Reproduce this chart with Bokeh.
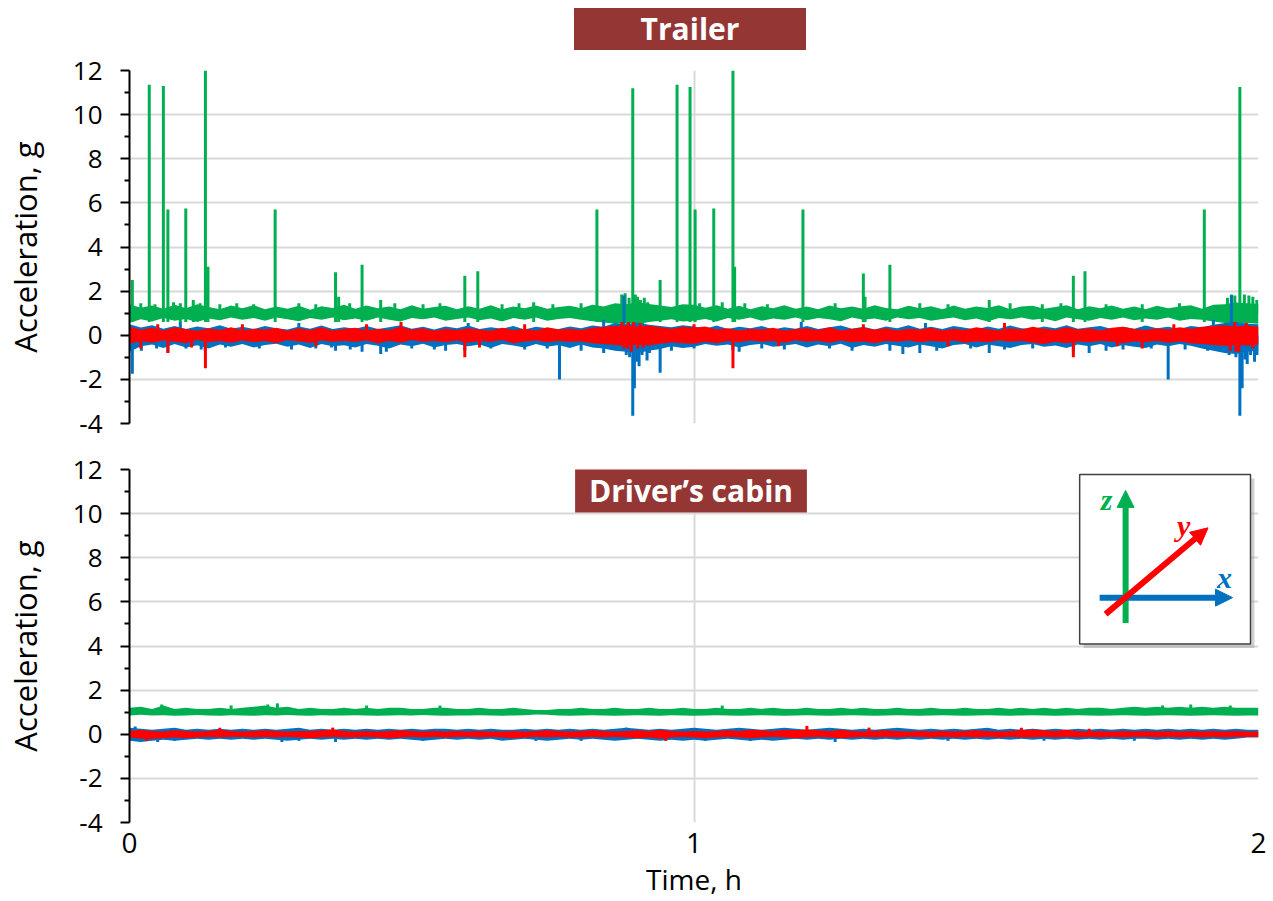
from bokeh.plotting import figure
from bokeh.layouts import column
from bokeh.models import FixedTicker, Range1d, Div
from bokeh.core.properties import value
from bokeh.embed import file_html
from bokeh.resources import INLINE

FONT = "Open Sans"
GREEN, BLUE, RED = "#00B050", "#0070C0", "#FF0000"
BOX_COLOR = "#943634"
GRID = "#D9D9D9"

panel_titles = ["Trailer", "Driver\u2019s cabin"]
y_label = "Acceleration, g"
x_label = "Time, h"
x_ticks = [0, 1, 2]
y_ticks = [-4, -2, 0, 2, 4, 6, 8, 10, 12]
y_minor = [-3, -1, 1, 3, 5, 7, 9, 11]
axis_names = ["x", "y", "z"]

# sample grid of the envelopes (h)
time_h = [round(0.02 * i, 2) for i in range(101)]

# ---------------- Trailer: envelope (upper / lower) of each axis ----------------
T_z_hi = [1.40,1.25,1.35,1.20,1.38,1.22,1.40,1.28,1.18,1.35,
          1.22,1.36,1.18,1.30,1.20,1.34,1.16,1.32,1.24,1.38,
          1.20,1.35,1.22,1.30,1.18,1.36,1.20,1.28,1.34,1.18,
          1.32,1.20,1.36,1.18,1.30,1.22,1.35,1.20,1.28,1.34,
          1.22,1.38,1.30,1.45,1.40,1.50,1.42,1.35,1.28,1.40,
          1.38,1.25,1.36,1.20,1.34,1.18,1.32,1.22,1.36,1.20,
          1.30,1.18,1.35,1.22,1.30,1.20,1.36,1.24,1.18,1.34,
          1.22,1.32,1.18,1.35,1.20,1.30,1.24,1.36,1.18,1.30,
          1.34,1.20,1.28,1.36,1.18,1.32,1.22,1.35,1.20,1.30,
          1.18,1.34,1.22,1.30,1.36,1.20,1.38,1.40,1.48,1.45,
          1.42]
T_z_lo = [0.55,0.72,0.62,0.78,0.66,0.74,0.60,0.76,0.68,0.80,
          0.70,0.78,0.66,0.80,0.72,0.64,0.78,0.70,0.80,0.68,
          0.76,0.66,0.80,0.70,0.62,0.78,0.72,0.80,0.66,0.74,
          0.80,0.68,0.76,0.62,0.78,0.70,0.80,0.66,0.74,0.78,
          0.70,0.64,0.58,0.52,0.56,0.50,0.60,0.66,0.72,0.62,
          0.66,0.74,0.62,0.78,0.70,0.80,0.66,0.76,0.70,0.80,
          0.68,0.78,0.72,0.64,0.80,0.70,0.76,0.66,0.80,0.72,
          0.78,0.66,0.74,0.80,0.68,0.76,0.62,0.78,0.72,0.80,
          0.70,0.76,0.64,0.80,0.72,0.66,0.78,0.70,0.80,0.68,
          0.76,0.70,0.80,0.66,0.74,0.70,0.62,0.56,0.50,0.55,
          0.52]
T_x_hi = [0.50,0.35,0.45,0.30,0.42,0.28,0.40,0.32,0.45,0.30,
          0.38,0.28,0.42,0.32,0.26,0.40,0.30,0.44,0.28,0.36,
          0.30,0.42,0.28,0.36,0.45,0.30,0.38,0.26,0.40,0.32,
          0.44,0.28,0.36,0.30,0.42,0.26,0.38,0.32,0.28,0.40,
          0.32,0.44,0.38,0.55,0.50,0.58,0.48,0.42,0.36,0.45,
          0.40,0.30,0.44,0.28,0.38,0.32,0.42,0.26,0.36,0.30,
          0.42,0.28,0.36,0.44,0.30,0.38,0.26,0.40,0.32,0.45,
          0.30,0.38,0.28,0.42,0.34,0.26,0.40,0.30,0.44,0.32,
          0.28,0.40,0.32,0.45,0.30,0.36,0.42,0.28,0.38,0.30,
          0.44,0.32,0.38,0.28,0.42,0.36,0.48,0.55,0.60,0.52,
          0.50]
T_x_lo = [-0.75,-0.50,-0.42,-0.58,-0.40,-0.55,-0.45,-0.60,-0.42,-0.52,
          -0.40,-0.56,-0.44,-0.38,-0.52,-0.42,-0.58,-0.40,-0.50,-0.45,
          -0.55,-0.40,-0.48,-0.60,-0.42,-0.50,-0.38,-0.56,-0.44,-0.40,
          -0.50,-0.42,-0.58,-0.40,-0.46,-0.55,-0.40,-0.52,-0.44,-0.58,
          -0.42,-0.55,-0.60,-0.70,-0.75,-0.80,-0.70,-0.62,-0.50,-0.58,
          -0.52,-0.40,-0.48,-0.42,-0.56,-0.44,-0.38,-0.52,-0.46,-0.40,
          -0.55,-0.42,-0.50,-0.38,-0.58,-0.44,-0.52,-0.40,-0.48,-0.56,
          -0.42,-0.50,-0.60,-0.44,-0.40,-0.55,-0.42,-0.50,-0.58,-0.44,
          -0.40,-0.52,-0.46,-0.58,-0.42,-0.50,-0.40,-0.56,-0.44,-0.52,
          -0.58,-0.42,-0.50,-0.40,-0.48,-0.60,-0.70,-0.80,-0.85,-0.75,
          -0.70]
T_y_hi = [0.38,0.25,0.34,0.22,0.36,0.28,0.20,0.32,0.24,0.36,
          0.22,0.30,0.26,0.34,0.20,0.32,0.24,0.36,0.22,0.28,
          0.34,0.22,0.30,0.24,0.38,0.26,0.32,0.20,0.30,0.24,
          0.32,0.26,0.20,0.34,0.24,0.30,0.22,0.36,0.26,0.30,
          0.24,0.34,0.38,0.42,0.45,0.40,0.44,0.36,0.30,0.38,
          0.34,0.40,0.26,0.32,0.22,0.30,0.26,0.34,0.22,0.28,
          0.32,0.24,0.36,0.22,0.30,0.34,0.26,0.32,0.22,0.30,
          0.26,0.34,0.22,0.30,0.24,0.36,0.28,0.22,0.32,0.26,
          0.38,0.30,0.24,0.36,0.26,0.32,0.22,0.34,0.38,0.28,
          0.24,0.32,0.26,0.36,0.30,0.38,0.42,0.45,0.40,0.44,
          0.38]
T_y_lo = [-0.38,-0.26,-0.34,-0.24,-0.30,-0.36,-0.22,-0.32,-0.26,-0.34,
          -0.24,-0.32,-0.26,-0.36,-0.22,-0.28,-0.34,-0.24,-0.30,-0.26,
          -0.30,-0.24,-0.36,-0.26,-0.34,-0.22,-0.30,-0.26,-0.32,-0.24,
          -0.34,-0.26,-0.30,-0.22,-0.36,-0.28,-0.24,-0.32,-0.26,-0.30,
          -0.28,-0.36,-0.40,-0.44,-0.48,-0.42,-0.46,-0.38,-0.32,-0.36,
          -0.38,-0.30,-0.36,-0.26,-0.32,-0.24,-0.30,-0.26,-0.34,-0.24,
          -0.30,-0.26,-0.34,-0.24,-0.32,-0.28,-0.36,-0.26,-0.30,-0.24,
          -0.32,-0.26,-0.30,-0.24,-0.34,-0.28,-0.32,-0.24,-0.30,-0.26,
          -0.34,-0.40,-0.30,-0.36,-0.28,-0.32,-0.26,-0.30,-0.36,-0.28,
          -0.32,-0.26,-0.34,-0.28,-0.36,-0.40,-0.44,-0.48,-0.44,-0.46,
          -0.42]

# Trailer: large isolated peaks (time h, peak g)
T_z_peak_t = [0.005, 0.035, 0.060, 0.068, 0.090, 0.0997, 0.113, 0.1345, 0.139, 0.258,
              0.365, 0.3705, 0.412, 0.445, 0.594, 0.617, 0.716, 0.828, 0.8915, 0.940,
              0.970, 0.993, 1.002, 1.035, 1.069, 1.072, 1.193, 1.300, 1.303, 1.347,
              1.523, 1.617, 1.672, 1.6926, 1.794, 1.904, 1.967]
T_z_peak_v = [2.5, 11.35, 11.3, 5.7, 1.45, 5.75, 1.6, 12.0, 3.1, 5.7,
              2.85, 1.75, 3.2, 1.6, 2.7, 2.9, 1.5, 5.7, 11.2, 2.5,
              11.35, 11.25, 5.7, 5.75, 12.0, 3.1, 5.7, 2.8, 1.75, 3.2,
              1.6, 1.4, 2.7, 2.9, 1.4, 5.7, 11.25]
# Trailer: small excursions out of the noise band
T_z_fr_t = [0.02, 0.045, 0.078, 0.125, 0.16, 0.19, 0.22, 0.30, 0.33, 0.39,
            0.47, 0.52, 0.55, 0.66, 0.69, 0.75, 0.80, 0.872, 0.878, 0.885,
            0.896, 0.900, 0.905, 0.912, 0.918, 1.01, 1.05, 1.09, 1.13, 1.25,
            1.40, 1.45, 1.56, 1.65, 1.73, 1.86, 1.945, 1.952, 1.958, 1.975,
            1.983, 1.990, 1.997, 0.882, 0.909, 1.962, 1.979]
T_z_fr_v = [1.45, 1.4, 1.5, 1.45, 1.4, 1.45, 1.4, 1.45, 1.4, 1.45,
            1.45, 1.4, 1.45, 1.4, 1.45, 1.4, 1.45, 1.85, 1.9, 1.7,
            1.85, 1.75, 1.6, 1.7, 1.5, 1.45, 1.5, 1.45, 1.4, 1.45,
            1.45, 1.4, 1.45, 1.45, 1.4, 1.45, 1.7, 1.85, 1.8, 1.85,
            1.8, 1.75, 1.6, 0.3, 0.35, 0.35, 0.3]
T_x_peak_t = [0.005, 0.068, 0.134, 0.365, 0.412, 0.445, 0.594, 0.7617, 0.876, 0.8915,
              0.8944, 0.9027, 0.9168, 0.940, 1.069, 1.347, 1.523, 1.672, 1.840, 1.952,
              1.967, 1.971, 1.980, 1.993]
T_x_peak_v = [-1.75, -0.8, -0.7, -0.7, -0.75, -0.85, -0.7, -2.0, 1.8, -3.65,
              -2.4, -1.4, -1.15, -1.7, -0.7, -0.7, -0.8, -0.75, -2.0, 1.8,
              -3.65, -2.4, -1.3, -1.2]
T_x_fr_t = [0.021, 0.048, 0.10, 0.127, 0.17, 0.23, 0.287, 0.33, 0.358, 0.391,
            0.455, 0.50, 0.54, 0.56, 0.64, 0.70, 0.74, 0.80, 0.84, 0.88,
            0.886, 0.899, 0.908, 0.921, 0.96, 1.00, 1.08, 1.12, 1.16, 1.24,
            1.28, 1.37, 1.40, 1.43, 1.49, 1.55, 1.60, 1.70, 1.73, 1.76,
            1.81, 1.87, 1.91, 1.948, 1.96, 1.976, 1.986, 1.998,
            0.09, 0.30, 0.60, 0.84, 1.19, 1.41, 1.92]
T_x_fr_v = [-0.7, -0.6, -0.6, -0.65, -0.55, -0.6, -0.65, -0.6, -0.55, -0.65,
            -0.75, -0.6, -0.65, -0.7, -0.6, -0.65, -0.6, -0.7, -0.8, -0.9,
            -1.0, -1.2, -0.9, -0.8, -0.7, -0.6, -0.75, -0.6, -0.65, -0.6,
            -0.7, -0.85, -0.8, -0.7, -0.6, -0.65, -0.6, -0.8, -0.7, -0.65,
            -0.6, -0.65, -0.7, -0.9, -1.0, -1.1, -0.9, -0.9,
            0.6, 0.55, 0.55, 0.7, 0.6, 0.55, 0.7]
T_y_peak_t = [0.068, 0.1345, 0.481, 0.594, 0.882, 0.905, 1.069, 1.672, 1.794, 1.960]
T_y_peak_v = [-0.8, -1.5, 0.6, -1.0, -0.6, 0.55, -1.5, -1.0, -0.6, -0.75]
T_y_fr_t = [0.02, 0.05, 0.11, 0.20, 0.33, 0.42, 0.62, 0.70, 0.872, 0.876,
            0.884, 0.889, 0.893, 0.900, 0.910, 1.00, 1.15, 1.30, 1.45, 1.55,
            1.75, 1.85, 1.95, 1.958, 1.965, 1.978, 1.990]
T_y_fr_v = [-0.6, 0.5, -0.55, 0.5, -0.5, 0.5, -0.55, 0.5, 0.6, -0.6,
            0.6, -0.75, 0.6, -0.6, -0.55, 0.5, -0.5, 0.5, -0.5, 0.55,
            -0.5, 0.5, -0.7, 0.6, -0.75, 0.55, -0.6]

# ---------------- Driver's cabin ----------------
C_z_hi = [1.20,1.25,1.15,1.30,1.15,1.20,1.15,1.15,1.20,1.15,
          1.20,1.25,1.30,1.20,1.25,1.15,1.20,1.15,1.15,1.20,
          1.15,1.20,1.15,1.20,1.20,1.15,1.15,1.20,1.20,1.15,
          1.15,1.20,1.15,1.15,1.20,1.15,1.10,1.10,1.15,1.15,
          1.20,1.15,1.15,1.20,1.15,1.15,1.20,1.15,1.15,1.20,
          1.15,1.15,1.20,1.15,1.15,1.20,1.15,1.20,1.15,1.15,
          1.20,1.15,1.15,1.20,1.15,1.20,1.15,1.15,1.20,1.15,
          1.15,1.20,1.15,1.15,1.20,1.15,1.15,1.20,1.15,1.20,
          1.15,1.20,1.15,1.20,1.15,1.20,1.20,1.15,1.20,1.25,
          1.20,1.25,1.20,1.25,1.20,1.25,1.20,1.25,1.20,1.20,
          1.20]
C_z_lo = [0.85,0.88,0.85,0.86,0.84,0.85,0.87,0.85,0.84,0.86,
          0.85,0.84,0.86,0.85,0.87,0.85,0.84,0.86,0.85,0.85,
          0.86,0.85,0.84,0.85,0.86,0.85,0.87,0.85,0.84,0.85,
          0.85,0.86,0.85,0.84,0.85,0.86,0.90,0.88,0.85,0.84,
          0.85,0.86,0.85,0.84,0.85,0.86,0.85,0.84,0.86,0.85,
          0.84,0.85,0.86,0.85,0.84,0.85,0.86,0.85,0.84,0.85,
          0.86,0.85,0.84,0.85,0.86,0.85,0.84,0.85,0.86,0.85,
          0.84,0.85,0.86,0.85,0.84,0.85,0.86,0.85,0.84,0.85,
          0.86,0.85,0.84,0.85,0.86,0.85,0.84,0.85,0.86,0.85,
          0.84,0.85,0.86,0.85,0.84,0.85,0.86,0.85,0.84,0.85,
          0.85]
C_x_hi = [0.30,0.25,0.20,0.25,0.30,0.20,0.25,0.20,0.25,0.20,
          0.25,0.20,0.25,0.20,0.25,0.30,0.20,0.25,0.20,0.25,
          0.20,0.25,0.20,0.25,0.20,0.25,0.20,0.25,0.25,0.20,
          0.25,0.20,0.25,0.20,0.20,0.25,0.20,0.25,0.20,0.25,
          0.20,0.25,0.20,0.25,0.30,0.25,0.20,0.25,0.20,0.25,
          0.30,0.25,0.20,0.25,0.30,0.25,0.20,0.25,0.30,0.25,
          0.20,0.25,0.30,0.25,0.20,0.25,0.20,0.25,0.30,0.25,
          0.20,0.25,0.20,0.25,0.20,0.25,0.30,0.20,0.25,0.20,
          0.25,0.20,0.25,0.20,0.25,0.20,0.25,0.20,0.25,0.20,
          0.25,0.20,0.25,0.20,0.25,0.20,0.25,0.20,0.25,0.20,
          0.20]
C_x_lo = [-0.30,-0.35,-0.30,-0.25,-0.30,-0.25,-0.20,-0.25,-0.20,-0.25,
          -0.20,-0.25,-0.20,-0.25,-0.30,-0.25,-0.20,-0.25,-0.20,-0.25,
          -0.20,-0.25,-0.20,-0.25,-0.20,-0.25,-0.30,-0.25,-0.20,-0.25,
          -0.20,-0.25,-0.20,-0.30,-0.25,-0.20,-0.25,-0.30,-0.25,-0.20,
          -0.25,-0.20,-0.25,-0.30,-0.25,-0.20,-0.25,-0.30,-0.25,-0.30,
          -0.25,-0.30,-0.25,-0.20,-0.25,-0.30,-0.25,-0.30,-0.25,-0.20,
          -0.25,-0.20,-0.25,-0.20,-0.25,-0.20,-0.25,-0.20,-0.25,-0.20,
          -0.25,-0.20,-0.25,-0.20,-0.25,-0.20,-0.25,-0.20,-0.25,-0.20,
          -0.25,-0.20,-0.25,-0.20,-0.25,-0.20,-0.25,-0.20,-0.25,-0.20,
          -0.20,-0.25,-0.20,-0.25,-0.20,-0.25,-0.20,-0.25,-0.20,-0.15,
          -0.15]
C_y_hi = [0.15,0.20,0.15,0.12,0.18,0.15,0.12,0.15,0.20,0.15,
          0.12,0.15,0.18,0.15,0.12,0.15,0.15,0.18,0.22,0.15,
          0.12,0.15,0.12,0.15,0.18,0.15,0.12,0.15,0.12,0.15,
          0.12,0.15,0.12,0.12,0.15,0.12,0.15,0.18,0.15,0.12,
          0.15,0.18,0.15,0.12,0.15,0.18,0.15,0.20,0.15,0.12,
          0.15,0.12,0.15,0.18,0.15,0.20,0.18,0.15,0.20,0.18,
          0.22,0.18,0.15,0.20,0.15,0.12,0.15,0.18,0.15,0.12,
          0.15,0.12,0.15,0.12,0.15,0.18,0.15,0.12,0.15,0.18,
          0.22,0.18,0.15,0.20,0.15,0.12,0.15,0.12,0.15,0.12,
          0.15,0.12,0.15,0.12,0.15,0.12,0.15,0.12,0.15,0.12,
          0.12]
C_y_lo = [-0.15,-0.20,-0.22,-0.18,-0.15,-0.18,-0.15,-0.12,-0.15,-0.12,
          -0.12,-0.15,-0.12,-0.15,-0.12,-0.15,-0.18,-0.15,-0.12,-0.15,
          -0.15,-0.12,-0.15,-0.18,-0.15,-0.12,-0.15,-0.12,-0.15,-0.12,
          -0.12,-0.15,-0.12,-0.15,-0.18,-0.15,-0.12,-0.15,-0.12,-0.15,
          -0.15,-0.12,-0.15,-0.12,-0.15,-0.18,-0.15,-0.20,-0.15,-0.12,
          -0.15,-0.18,-0.15,-0.12,-0.15,-0.18,-0.15,-0.12,-0.15,-0.18,
          -0.15,-0.12,-0.15,-0.18,-0.15,-0.12,-0.15,-0.12,-0.15,-0.12,
          -0.12,-0.15,-0.12,-0.15,-0.12,-0.15,-0.12,-0.15,-0.12,-0.15,
          -0.15,-0.12,-0.15,-0.12,-0.15,-0.12,-0.15,-0.12,-0.15,-0.12,
          -0.12,-0.15,-0.12,-0.15,-0.12,-0.15,-0.12,-0.15,-0.12,-0.12,
          -0.12]

C_z_fr_t = [0.057, 0.18, 0.245, 0.262, 0.42, 0.55, 1.05, 1.83, 1.88, 1.95]
C_z_fr_v = [1.35, 1.3, 1.35, 1.4, 1.3, 1.3, 1.3, 1.3, 1.35, 1.3]
C_x_fr_t = [0.01, 0.05, 0.08, 0.27, 0.30, 0.365, 0.52, 0.72, 0.80, 0.88, 1.02, 1.10, 1.25, 1.45, 1.62, 1.78]
C_x_fr_v = [0.35, -0.35, -0.3, -0.35, -0.3, -0.35, -0.3, -0.3, -0.3, 0.3, -0.3, -0.3, -0.35, -0.3, -0.3, -0.3]
C_y_fr_t = [0.03, 0.16, 0.36, 0.95, 1.20, 1.31, 1.58, 1.70]
C_y_fr_v = [-0.3, 0.3, 0.3, -0.3, 0.38, 0.3, 0.3, 0.25]

# ---------------- layout constants (page pixels, page origin at 0) ----------------
FRAME_L, FRAME_R = 128, 1258
BOT_FRAME_T, BOT_FRAME_B = 469, 823


def tx(px):
    return (px - FRAME_L) / (FRAME_R - FRAME_L) * 2


def by(py):
    return 12 - (py - BOT_FRAME_T) / (BOT_FRAME_B - BOT_FRAME_T) * 16


def style_y(p):
    ax = p.yaxis[0]
    ax.ticker = FixedTicker(ticks=y_ticks, minor_ticks=y_minor)
    ax.axis_line_color = "black"
    ax.axis_line_width = 2
    ax.major_tick_line_color = "black"
    ax.major_tick_line_width = 2
    ax.minor_tick_line_color = "black"
    ax.minor_tick_line_width = 2
    ax.major_tick_out = 9
    ax.major_tick_in = 0
    ax.minor_tick_out = 5
    ax.minor_tick_in = 0
    ax.major_label_text_font = FONT
    ax.major_label_text_font_size = "26px"
    ax.major_label_text_color = "black"
    ax.major_label_standoff = 18
    ax.major_label_overrides = {t: str(t) for t in y_ticks}
    ax.axis_label = y_label
    ax.axis_label_text_font = FONT
    ax.axis_label_text_font_size = "31px"
    ax.axis_label_text_font_style = "normal"
    ax.axis_label_text_color = "black"
    ax.axis_label_standoff = 24
    p.ygrid.ticker = FixedTicker(ticks=y_ticks)
    p.ygrid.grid_line_color = GRID
    p.ygrid.grid_line_width = 2
    p.xgrid.ticker = FixedTicker(ticks=x_ticks)
    p.xgrid.grid_line_color = GRID
    p.xgrid.grid_line_width = 2


def draw_band(p, hi, lo, color):
    p.varea(x=time_h, y1=lo, y2=hi, fill_color=color)


def draw_strokes(p, ts, vs, base, color):
    p.segment(x0=ts, y0=[base] * len(ts), x1=ts, y1=vs, line_color=color, line_width=3)


# ---------------- heading above the top panel ----------------
head = Div(
    text=(f'<div style="padding:8px 0 0 574px;margin:0;">'
          f'<div style="width:232px;height:42px;line-height:42px;margin:0;'
          f'background:{BOX_COLOR};color:#ffffff;font-family:\'{FONT}\';'
          f'font-weight:bold;font-size:30px;text-align:center;">{panel_titles[0]}</div></div>'),
    width=1270, height=50, margin=(0, 0, 0, 0))

# ---------------- top figure: Trailer ----------------
p1 = figure(width=1270, height=396, x_range=Range1d(0, 2), y_range=Range1d(-4, 12),
            output_backend="svg", toolbar_location=None, title=None,
            min_border_left=128, min_border_right=12, min_border_top=20, min_border_bottom=23)
p1.outline_line_color = None
p1.xaxis.visible = False
style_y(p1)

draw_band(p1, T_z_hi, T_z_lo, GREEN)
draw_strokes(p1, T_z_peak_t, T_z_peak_v, 0.6, GREEN)
draw_strokes(p1, T_z_fr_t, T_z_fr_v, 1.0, GREEN)
draw_band(p1, T_x_hi, T_x_lo, BLUE)
draw_strokes(p1, T_x_peak_t, T_x_peak_v, 0.0, BLUE)
draw_strokes(p1, T_x_fr_t, T_x_fr_v, 0.0, BLUE)
draw_band(p1, T_y_hi, T_y_lo, RED)
draw_strokes(p1, T_y_peak_t, T_y_peak_v, 0.0, RED)
draw_strokes(p1, T_y_fr_t, T_y_fr_v, 0.0, RED)

# ---------------- bottom figure: Driver's cabin ----------------
p2 = figure(width=1270, height=454, x_range=Range1d(0, 2), y_range=Range1d(-4, 12),
            output_backend="svg", toolbar_location=None, title=None,
            min_border_left=128, min_border_right=12, min_border_top=23, min_border_bottom=77)
p2.outline_line_color = None
style_y(p2)
xa = p2.xaxis[0]
xa.ticker = FixedTicker(ticks=x_ticks)
xa.axis_line_color = None
xa.major_tick_line_color = None
xa.minor_tick_line_color = None
xa.major_label_text_font = FONT
xa.major_label_text_font_size = "28px"
xa.major_label_text_color = "black"
xa.major_label_standoff = 4
xa.axis_label = x_label
xa.axis_label_text_font = FONT
xa.axis_label_text_font_size = "28px"
xa.axis_label_text_font_style = "normal"
xa.axis_label_text_color = "black"
xa.axis_label_standoff = 4

draw_band(p2, C_z_hi, C_z_lo, GREEN)
draw_strokes(p2, C_z_fr_t, C_z_fr_v, 1.0, GREEN)
draw_band(p2, C_x_hi, C_x_lo, BLUE)
draw_strokes(p2, C_x_fr_t, C_x_fr_v, 0.0, BLUE)
draw_band(p2, C_y_hi, C_y_lo, RED)
draw_strokes(p2, C_y_fr_t, C_y_fr_v, 0.0, RED)

# heading box of the bottom panel
p2.quad(left=[tx(574)], right=[tx(806)], top=[by(468)], bottom=[by(512)],
        fill_color=BOX_COLOR, line_color=None)
p2.text(x=[tx(690)], y=[by(490)], text=[panel_titles[1]],
        text_align="center", text_baseline="middle", text_color="white",
        text_font=value(FONT), text_font_style="bold", text_font_size="30px")

# ---------------- inset: axis orientation sketch ----------------
p2.quad(left=[tx(1083)], right=[tx(1254)], top=[by(478)], bottom=[by(648)],
        fill_color="#9a9a9a", fill_alpha=0.45, line_color=None)
p2.quad(left=[tx(1079)], right=[tx(1250)], top=[by(474)], bottom=[by(644)],
        fill_color="white", line_color="#404040", line_width=1.5)


def arrow(p, x0, y0, x1, y1, color, head_len=17.0, head_half=8.5, width=6):
    dx, dy = x1 - x0, y1 - y0
    L = (dx * dx + dy * dy) ** 0.5
    ux, uy = dx / L, dy / L
    cx, cy = x1 - ux * head_len, y1 - uy * head_len
    nx, ny = -uy, ux
    p.segment(x0=[tx(x0)], y0=[by(y0)], x1=[tx(cx)], y1=[by(cy)],
              line_color=color, line_width=width)
    p.patch(x=[tx(x1), tx(cx + nx * head_half), tx(cx - nx * head_half)],
            y=[by(y1), by(cy + ny * head_half), by(cy - ny * head_half)],
            fill_color=color, line_color=color, line_width=1)


arrow(p2, 1125, 623, 1125, 490, GREEN)
arrow(p2, 1099, 597.5, 1232, 597.5, BLUE)
arrow(p2, 1105, 614, 1207.5, 527.5, RED)
p2.text(x=[tx(1106), tx(1183), tx(1224)], y=[by(499), by(525), by(577)],
        text=[axis_names[2], axis_names[1], axis_names[0]],
        text_color=[GREEN, RED, BLUE], text_align="center", text_baseline="middle",
        text_font=value("Liberation Serif"), text_font_style="bold italic",
        text_font_size="30px")

layout = column(head, p1, p2)
open("out.html", "w").write(file_html(layout, INLINE, "chart"))
